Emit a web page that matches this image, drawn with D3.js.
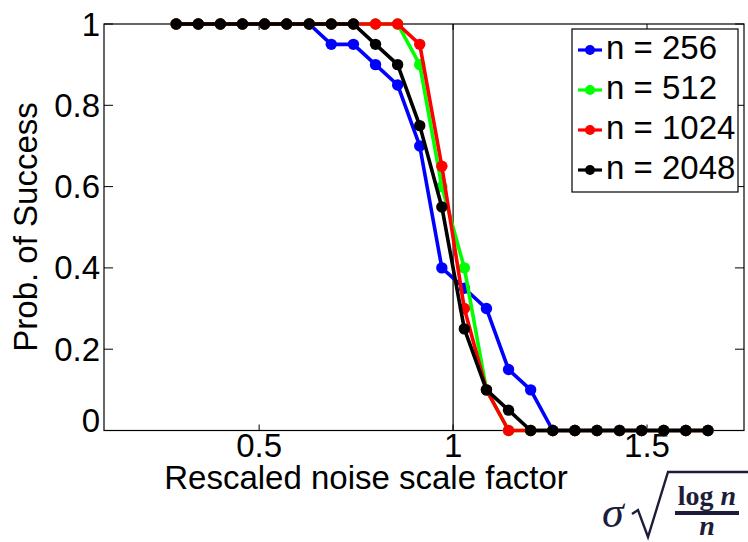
<!DOCTYPE html>
<html>
<head>
<meta charset="utf-8">
<script src="https://cdn.jsdelivr.net/npm/d3@7"></script>
<style>
  body { margin: 0; background: #fff; }
  svg { display: block; }
</style>
</head>
<body>
<div id="chart"></div>
<script>
// rescaled noise (sigma * sqrt(log n / n)) grid, shared by all series
var xValues = [0.286, 0.343, 0.400, 0.457, 0.514, 0.571, 0.629, 0.686, 0.743, 0.800,
  0.857, 0.914, 0.971, 1.029, 1.086, 1.143, 1.200, 1.257, 1.314, 1.371,
  1.429, 1.486, 1.543, 1.600, 1.657];

// probability of success per n
var p256 = [1, 1, 1, 1, 1, 1, 1, 0.95, 0.95, 0.9, 0.85, 0.7, 0.4, 0.35, 0.3, 0.15, 0.1,
  0, 0, 0, 0, 0, 0, 0, 0];
var p512 = [1, 1, 1, 1, 1, 1, 1, 1, 1, 1, 1, 0.9, 0.6, 0.4, 0.1,
  0, 0, 0, 0, 0, 0, 0, 0, 0, 0];
var p1024 = [1, 1, 1, 1, 1, 1, 1, 1, 1, 1, 1, 0.95, 0.65, 0.3, 0.1,
  0, 0, 0, 0, 0, 0, 0, 0, 0, 0];
var p2048 = [1, 1, 1, 1, 1, 1, 1, 1, 1, 0.95, 0.9, 0.75, 0.55, 0.25, 0.1, 0.05,
  0, 0, 0, 0, 0, 0, 0, 0, 0];

var seriesNames = ['n = 256', 'n = 512', 'n = 1024', 'n = 2048'];
var seriesColors = ['#0000ff', '#00ff00', '#ff0000', '#000000'];
var seriesValues = [p256, p512, p1024, p2048];

var xTicks = [0.5, 1, 1.5];
var yTicks = [0, 0.2, 0.4, 0.6, 0.8, 1];

var width = 748;
var height = 542;

// axes box (window.top は使えないので名前を変える)
var boxLeft = 104, boxRight = 744, boxTop = 24, boxBottom = 430.5;
var fontSize = 33;
var sans = '"Liberation Sans", Arial, Helvetica, sans-serif';
var serif = '"Liberation Serif", "DejaVu Serif", serif';

var x = d3.scaleLinear().domain([0.1, 1.75]).range([boxLeft, boxRight]);
var y = d3.scaleLinear().domain([0, 1]).range([boxBottom, boxTop]);

var svg = d3.select('#chart').append('svg')
  .attr('width', width).attr('height', height)
  .style('font-family', sans);

// 枠
svg.append('rect')
  .attr('x', boxLeft).attr('y', boxTop)
  .attr('width', boxRight - boxLeft).attr('height', boxBottom - boxTop)
  .attr('fill', 'none').attr('stroke', '#000').attr('stroke-width', 1.2);

// ticks (inside, on all four sides)
var tickG = svg.append('g').attr('stroke', '#000').attr('stroke-width', 1);
xTicks.forEach(function(t) {
  tickG.append('line').attr('x1', x(t)).attr('x2', x(t)).attr('y1', boxBottom).attr('y2', boxBottom - 6);
  tickG.append('line').attr('x1', x(t)).attr('x2', x(t)).attr('y1', boxTop).attr('y2', boxTop + 6);
});
yTicks.forEach(function(t) {
  tickG.append('line').attr('x1', boxLeft).attr('x2', boxLeft + 9).attr('y1', y(t)).attr('y2', y(t));
  tickG.append('line').attr('x1', boxRight).attr('x2', boxRight - 9).attr('y1', y(t)).attr('y2', y(t));
});

// vertical reference line at 1
svg.append('line')
  .attr('x1', x(1)).attr('x2', x(1)).attr('y1', boxTop).attr('y2', boxBottom)
  .attr('stroke', '#000').attr('stroke-width', 1.2);

// tick labels
svg.selectAll('.xlab').data(xTicks).enter()
  .append('text')
  .attr('class', 'xlab')
  .attr('x', function(d) { return x(d); })
  .attr('y', 457)
  .attr('text-anchor', 'middle')
  .attr('font-size', fontSize)
  .text(function(d) { return d3.format('')(d); });

svg.selectAll('.ylab').data(yTicks).enter()
  .append('text')
  .attr('class', 'ylab')
  .attr('x', 100)
  .attr('y', function(d) { return y(d) + (d === 0 ? -10 : 0); })
  .attr('dy', '0.35em')
  .attr('text-anchor', 'end')
  .attr('font-size', fontSize)
  .text(function(d) { return d3.format('')(d); });

// axis titles
svg.append('text')
  .attr('x', 366).attr('y', 489)
  .attr('text-anchor', 'middle')
  .attr('font-size', fontSize)
  .text('Rescaled noise scale factor');

svg.append('text')
  .attr('transform', 'translate(37,227) rotate(-90)')
  .attr('text-anchor', 'middle')
  .attr('font-size', fontSize)
  .text('Prob. of Success');

// series
var line = d3.line()
  .x(function(d, i) { return x(xValues[i]); })
  .y(function(d) { return y(d); });

seriesValues.forEach(function(vals, k) {
  var g = svg.append('g');
  g.append('path')
    .attr('d', line(vals))
    .attr('fill', 'none')
    .attr('stroke', seriesColors[k])
    .attr('stroke-width', 3.6)
    .attr('stroke-linejoin', 'round');
  g.selectAll('circle').data(vals).enter()
    .append('circle')
    .attr('cx', function(d, i) { return x(xValues[i]); })
    .attr('cy', function(d) { return y(d); })
    .attr('r', 5.7)
    .attr('fill', seriesColors[k]);
});

// legend
var legend = svg.append('g');
legend.append('rect')
  .attr('x', 572).attr('y', 29)
  .attr('width', 166).attr('height', 163)
  .attr('fill', '#fff').attr('stroke', '#000').attr('stroke-width', 1.2);

seriesNames.forEach(function(name, k) {
  var base = 59 + k * 40;
  var cy = base - 9;
  legend.append('line')
    .attr('x1', 578).attr('x2', 602).attr('y1', cy).attr('y2', cy)
    .attr('stroke', seriesColors[k]).attr('stroke-width', 3.2);
  legend.append('circle')
    .attr('cx', 590).attr('cy', cy).attr('r', 5)
    .attr('fill', seriesColors[k]);
  legend.append('text')
    .attr('x', 606).attr('y', base)
    .attr('font-size', fontSize)
    .text(name);
});

// formula sigma * sqrt(log n / n)
var fcol = '#1d1d3a';
var f = svg.append('g').attr('fill', fcol).style('font-family', serif);
f.append('text')
  .attr('x', 602).attr('y', 527)
  .style('font-style', 'italic')
  .attr('font-size', 44)
  .text('σ');
f.append('path')
  .attr('d', 'M632,514 L638,510 L648,537 L668,472 L748,472')
  .attr('fill', 'none').attr('stroke', fcol).attr('stroke-width', 2.4)
  .attr('stroke-linejoin', 'miter');
var num = f.append('text')
  .attr('x', 707).attr('y', 505)
  .attr('text-anchor', 'middle')
  .style('font-weight', 'bold')
  .attr('font-size', 28);
num.append('tspan').text('log ');
num.append('tspan').style('font-style', 'italic').text('n');
f.append('rect')
  .attr('x', 675).attr('y', 511).attr('width', 64).attr('height', 4);
f.append('text')
  .attr('x', 707).attr('y', 535)
  .attr('text-anchor', 'middle')
  .style('font-weight', 'bold')
  .style('font-style', 'italic')
  .attr('font-size', 28)
  .text('n');
</script>
</body>
</html>
